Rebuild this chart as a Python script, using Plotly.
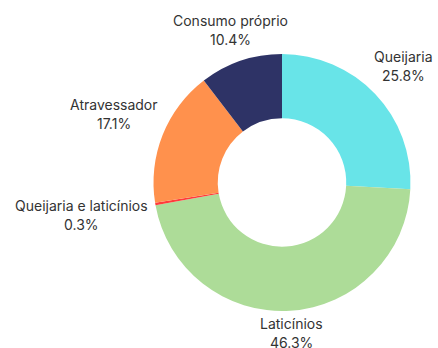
import math
import plotly.graph_objects as go

labels = ["Queijaria", "Laticínios", "Queijaria e laticínios", "Atravessador", "Consumo próprio"]
values = [25.8, 46.3, 0.3, 17.1, 10.4]
colors = ["#68E4E8", "#ADDC98", "#FF3B3B", "#FF914D", "#2E3366"]

W, H = 438, 348
ML, MR, MT, MB = 153, 27, 54, 37
FONT = dict(family="Inter", size=14, color="#333333")

fig = go.Figure(go.Pie(
    labels=labels,
    values=values,
    hole=0.5,
    sort=False,
    direction="clockwise",
    rotation=0,
    marker=dict(colors=colors, line=dict(width=0)),
    textinfo="none",
    hoverinfo="label+percent",
    showlegend=False,
))

# approximate glyph widths (px) of Inter at 14px, to keep labels clear of the ring
def char_w(c):
    if c in "iljíI.,:;!|'":
        return 3.9
    if c in "trf":
        return 5.1
    if c in "mw":
        return 12.2
    if c == " ":
        return 4.0
    if c == "%":
        return 11.0
    if c.isupper():
        return 9.2
    if c.isdigit():
        return 8.0
    if c == "s":
        return 6.8
    return 8.1

def text_w(s):
    return sum(char_w(c) for c in s)

pw, ph = W - ML - MR, H - MT - MB
radius = min(pw, ph) / 2
gap = 6          # clearance between ring and nearest point of a label block
half_h = 17      # half height of a two-line label block
line_off = 9.5   # half distance between the two lines
ink_lift = 1.5   # glyph ink sits slightly below the text box centre

def box_dist(d, s, c, a, b):
    X, Y = d * s, d * c
    dx = max(abs(X) - a, 0.0)
    dy = max(abs(Y) - b, 0.0)
    return math.hypot(dx, dy)

total = sum(values)
cum = 0.0
annotations = []
for lab, v in zip(labels, values):
    frac = v / total
    theta = 2 * math.pi * (cum + frac / 2)
    cum += frac
    s, c = math.sin(theta), math.cos(theta)
    pct = f"{frac * 100:.1f}%"
    a = max(text_w(lab), text_w(pct)) / 2
    lo, hi = 0.0, 600.0
    for _ in range(60):
        mid = (lo + hi) / 2
        if box_dist(mid, s, c, a, half_h) < radius + gap:
            lo = mid
        else:
            hi = mid
    d = hi
    xs, ys = d * s, d * c + ink_lift
    for txt, off in ((lab, line_off), (pct, -line_off)):
        annotations.append(dict(
            x=0.5, y=0.5, xref="paper", yref="paper",
            xanchor="center", yanchor="middle",
            xshift=xs, yshift=ys + off,
            text=txt, showarrow=False, align="center",
            font=FONT,
        ))

fig.update_layout(
    width=W, height=H,
    autosize=False,
    margin=dict(l=ML, r=MR, t=MT, b=MB, pad=0, autoexpand=False),
    paper_bgcolor="white",
    font=FONT,
    annotations=annotations,
)
fig.write_html("out.html")
